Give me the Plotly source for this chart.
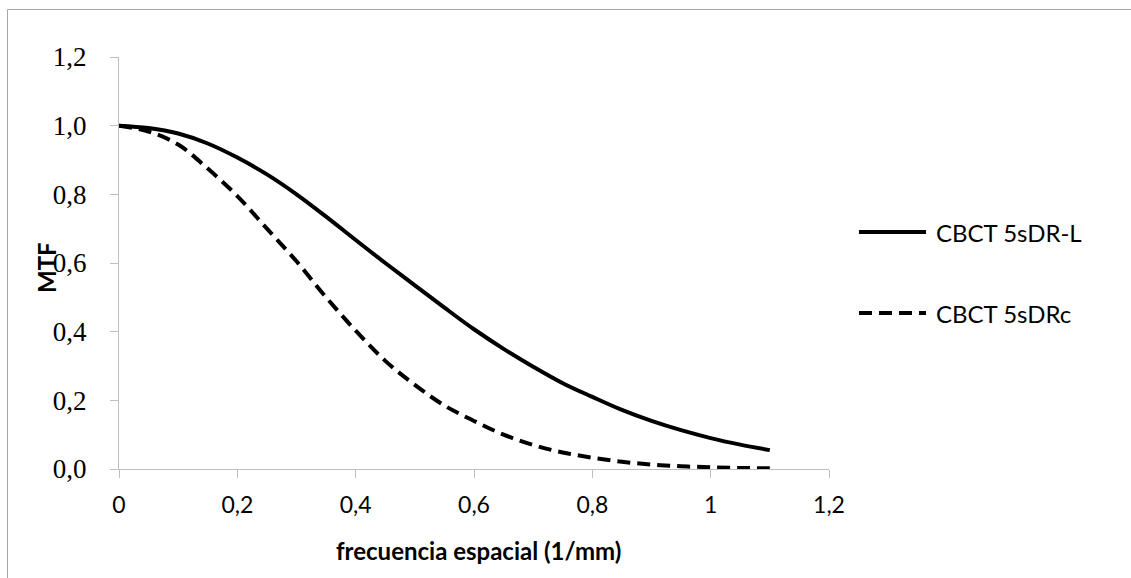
import plotly.graph_objects as go

# Data
freq = [0, 0.05, 0.1, 0.15, 0.2, 0.25, 0.3, 0.35, 0.4, 0.45, 0.5, 0.55,
        0.6, 0.65, 0.7, 0.75, 0.8, 0.85, 0.9, 0.95, 1.0, 1.05, 1.1]
mtf_L = [1.0, 0.993, 0.977, 0.948, 0.907, 0.858, 0.80, 0.735, 0.667, 0.60,
         0.535, 0.47, 0.407, 0.35, 0.298, 0.25, 0.21, 0.172, 0.14, 0.113,
         0.09, 0.071, 0.055]
mtf_c = [1.0, 0.983, 0.945, 0.875, 0.795, 0.70, 0.605, 0.50, 0.403, 0.315,
         0.245, 0.185, 0.14, 0.10, 0.07, 0.048, 0.033, 0.021, 0.013, 0.008,
         0.005, 0.003, 0.002]
names = ["CBCT 5sDR-L", "CBCT 5sDRc"]
x_tickvals = [0, 0.2, 0.4, 0.6, 0.8, 1.0, 1.2]
x_ticktext = ["0", "0,2", "0,4", "0,6", "0,8", "1", "1,2"]
y_tickvals = [0, 0.2, 0.4, 0.6, 0.8, 1.0, 1.2]
y_ticktext = ["0,0", "0,2", "0,4", "0,6", "0,8", "1,0", "1,2"]

W, H = 1131, 578
L, R, T, B = 119, 302, 57, 109
pw, ph = W - L - R, H - T - B

def px(x):
    return (x - L) / pw

def py(y):
    return (H - B - y) / ph

sans = "Lato, Open Sans, sans-serif"
dash_style = "13px,7px"

fig = go.Figure()
fig.add_trace(go.Scatter(x=freq, y=mtf_L, mode="lines", name=names[0],
                         line=dict(color="black", width=4, shape="spline"),
                         showlegend=False))
fig.add_trace(go.Scatter(x=freq, y=mtf_c, mode="lines", name=names[1],
                         line=dict(color="black", width=4, shape="spline",
                                   dash=dash_style),
                         showlegend=False))

axis_color = "#BFBFBF"
fig.update_xaxes(range=[0, 1.2], tickvals=x_tickvals, ticktext=x_ticktext,
                 showgrid=False, zeroline=False, showline=True,
                 linecolor=axis_color, linewidth=1, ticks="outside",
                 ticklen=8, tickcolor=axis_color, ticklabelstandoff=7,
                 tickfont=dict(family=sans, size=23, color="black"))
fig.update_yaxes(range=[0, 1.2], tickvals=y_tickvals, ticktext=y_ticktext,
                 showgrid=False, zeroline=False, showline=True,
                 linecolor=axis_color, linewidth=1, ticks="outside",
                 ticklen=8, tickcolor=axis_color, ticklabelstandoff=18,
                 tickfont=dict(family="Liberation Serif, serif", size=27,
                               color="black"))

shapes = [
    dict(type="line", xref="paper", yref="paper", x0=px(7.5), x1=px(7.5),
         y0=py(9.5), y1=py(580), line=dict(color="#A6A6A6", width=1)),
    dict(type="line", xref="paper", yref="paper", x0=px(7.5), x1=px(1131),
         y0=py(9.5), y1=py(9.5), line=dict(color="#A6A6A6", width=1)),
]
annotations = [
    dict(text="<b>frecuencia espacial (1/mm)</b>", xref="paper", yref="paper",
         x=px(478), y=py(550), xanchor="center", yanchor="middle",
         showarrow=False, font=dict(family=sans, size=24, color="black")),
    dict(text="<b>MTF</b>", xref="paper", yref="paper", x=px(46), y=py(268),
         xanchor="center", yanchor="middle",
         showarrow=False, textangle=-90,
         font=dict(family=sans, size=24, color="black")),
]
# manual legend
leg_y = [232, 313]
dashes = ["solid", dash_style]
for i in range(2):
    shapes.append(dict(type="line", xref="paper", yref="paper",
                       x0=px(859), x1=px(926), y0=py(leg_y[i]), y1=py(leg_y[i]),
                       line=dict(color="black", width=4, dash=dashes[i])))
    annotations.append(dict(text=names[i], xref="paper", yref="paper",
                            x=px(934), y=py(leg_y[i]), xanchor="left",
                            yanchor="middle", showarrow=False,
                            font=dict(family=sans, size=24, color="black")))

fig.update_layout(width=W, height=H, margin=dict(l=L, r=R, t=T, b=B),
                  paper_bgcolor="white", plot_bgcolor="white",
                  shapes=shapes, annotations=annotations, showlegend=False)

fig.write_html("out.html")
